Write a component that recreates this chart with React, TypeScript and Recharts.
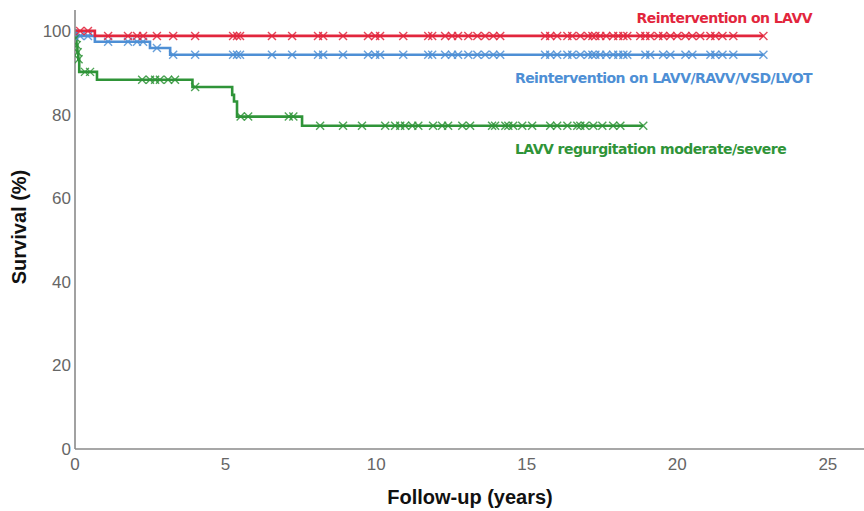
import React from 'react';
import { LineChart, Line, XAxis, YAxis } from 'recharts';

const xTicks = [0, 5, 10, 15, 20, 25];
const yTicks = [0, 20, 40, 60, 80, 100];

// Reintervention on LAVV
const lavvEventTimes = [0, 0.66];
const lavvEventSurv = [100, 98.8];
const lavvCensored = [
  0.17, 0.43, 1.1, 1.76, 2.06, 2.26, 2.72, 3.26, 3.99, 5.25, 5.38, 5.48, 6.54, 7.21,
  8.07, 8.24, 8.9, 9.73, 9.97, 10.13, 10.9, 11.73, 11.86, 12.29, 12.52, 12.72, 13.06,
  13.36, 13.62, 13.89, 14.12, 15.61, 15.78, 16.01, 16.35, 16.51, 16.78, 17.04, 17.18,
  17.28, 17.44, 17.64, 17.87, 18.04, 18.21, 18.34, 18.77, 18.94, 19.1, 19.37, 19.53,
  19.77, 20.0, 20.27, 20.5, 20.76, 21.1, 21.26, 21.5, 21.86, 22.86,
];

// Reintervention on LAVV/RAVV/VSD/LVOT
const anyEventTimes = [0, 0.05, 0.66, 2.49, 3.16];
const anyEventSurv = [100, 98.8, 97.4, 95.9, 94.3];
const anyCensored = [
  0.17, 0.43, 1.1, 1.76, 2.06, 2.26, 2.72, 3.26, 3.99, 5.25, 5.38, 5.48, 6.54, 7.21,
  8.07, 8.24, 8.9, 9.73, 9.97, 10.13, 10.9, 11.73, 11.86, 12.29, 12.52, 12.72, 13.06,
  13.36, 13.62, 13.89, 14.12, 15.61, 15.78, 16.01, 16.35, 16.51, 16.78, 17.04, 17.18,
  17.28, 17.44, 17.64, 17.87, 18.04, 18.21, 18.34, 18.94, 19.1, 19.53,
  19.77, 20.27, 20.5, 21.1, 21.26, 21.5, 21.86, 22.86,
];

// LAVV regurgitation moderate/severe
const regEventTimes = [0, 0.02, 0.05, 0.08, 0.11, 0.14, 0.73, 3.9, 5.22, 5.28, 5.38, 7.54];
const regEventSurv = [100, 98.3, 96.6, 94.9, 93.2, 90.2, 88.3, 86.6, 84.7, 83.1, 79.5, 77.3];
const regCensored = [
  0.03, 0.06, 0.09, 0.12, 0.33, 0.5, 2.23, 2.49, 2.66, 2.82, 3.09, 3.32, 3.99, 5.5,
  5.75, 7.1, 7.25, 8.14, 8.9, 9.53, 10.3, 10.63, 10.8, 10.96, 11.2, 11.4, 11.89, 12.19,
  12.39, 12.86, 13.12, 13.85, 13.95, 14.29, 14.39, 14.55, 14.85, 15.18, 15.78, 16.01,
  16.35, 16.68, 16.78, 16.94, 17.21, 17.51, 17.87, 18.11, 18.87,
];

const RED = '#e2263d';
const BLUE = '#4e8fd5';
const GREEN = '#2f9438';

// merge events and censor times into one step curve
function buildCurve(times: number[], surv: number[], censored: number[]) {
  const pts = times.map((t, i) => ({ t, s: surv[i], c: false }));
  censored.forEach((t) => {
    let s = surv[0];
    times.forEach((et, i) => {
      if (et <= t) s = surv[i];
    });
    pts.push({ t, s, c: true });
  });
  return pts.sort((a, b) => a.t - b.t);
}

const lavvCurve = buildCurve(lavvEventTimes, lavvEventSurv, lavvCensored);
const anyCurve = buildCurve(anyEventTimes, anyEventSurv, anyCensored);
const regCurve = buildCurve(regEventTimes, regEventSurv, regCensored);

const censorMark = (color: string) => (props: any) => {
  const { cx, cy, payload, index } = props;
  if (!payload || !payload.c) return <g key={index} />;
  const r = 4;
  return (
    <path
      key={index}
      d={`M${cx - r},${cy - r}L${cx + r},${cy + r}M${cx - r},${cy + r}L${cx + r},${cy - r}`}
      stroke={color}
      strokeOpacity={0.85}
      strokeWidth={1.4}
      fill="none"
    />
  );
};

const labelBase: React.CSSProperties = {
  position: 'absolute',
  fontFamily: '"DejaVu Sans", sans-serif',
  fontWeight: 'bold',
  fontSize: 14,
  letterSpacing: -0.55,
  whiteSpace: 'nowrap',
  lineHeight: '16px',
};

export default function App() {
  return (
    <div style={{ position: 'absolute', left: 0, top: 0, width: 864, height: 511, background: '#fff' }}>
      <LineChart width={864} height={511} margin={{ top: 10, right: 0, bottom: 0, left: 0 }}>
        <XAxis
          type="number"
          dataKey="t"
          domain={[0, 26.2]}
          ticks={xTicks}
          allowDataOverflow
          height={62}
          tickLine={false}
          tickSize={6}
          tickMargin={3}
          axisLine={{ stroke: '#8a8a8a', strokeWidth: 1.6 }}
          tick={{ fill: '#666', fontSize: 17, fontFamily: '"Liberation Sans", Arial, sans-serif' }}
        />
        <YAxis
          type="number"
          dataKey="s"
          domain={[0, 105]}
          ticks={yTicks}
          allowDataOverflow
          width={75}
          tickLine={false}
          tickSize={0}
          tickMargin={4}
          axisLine={{ stroke: '#8a8a8a', strokeWidth: 1.6 }}
          tick={{ fill: '#666', fontSize: 17, fontFamily: '"Liberation Sans", Arial, sans-serif' }}
        />
        <Line
          data={regCurve}
          dataKey="s"
          type="stepAfter"
          stroke={GREEN}
          strokeWidth={2.6}
          dot={censorMark(GREEN)}
          activeDot={false}
          isAnimationActive={false}
        />
        <Line
          data={anyCurve}
          dataKey="s"
          type="stepAfter"
          stroke={BLUE}
          strokeWidth={2.6}
          dot={censorMark(BLUE)}
          activeDot={false}
          isAnimationActive={false}
        />
        <Line
          data={lavvCurve}
          dataKey="s"
          type="stepAfter"
          stroke={RED}
          strokeWidth={2.6}
          dot={censorMark(RED)}
          activeDot={false}
          isAnimationActive={false}
        />
      </LineChart>

      <div style={{ ...labelBase, color: RED, right: 864 - 812, top: 10 }}>Reintervention on LAVV</div>
      <div style={{ ...labelBase, color: BLUE, right: 864 - 812, top: 70 }}>Reintervention on LAVV/RAVV/VSD/LVOT</div>
      <div style={{ ...labelBase, color: GREEN, left: 515, top: 141 }}>LAVV regurgitation moderate/severe</div>

      <div
        style={{
          position: 'absolute',
          left: 470,
          top: 497,
          transform: 'translate(-50%, -50%)',
          fontFamily: '"Liberation Sans", Arial, sans-serif',
          fontWeight: 'bold',
          fontSize: 20,
          whiteSpace: 'nowrap',
          color: '#111',
        }}
      >
        Follow-up (years)
      </div>
      <div
        style={{
          position: 'absolute',
          left: 19,
          top: 227,
          transform: 'translate(-50%, -50%) rotate(-90deg)',
          fontFamily: '"Liberation Sans", Arial, sans-serif',
          fontWeight: 'bold',
          fontSize: 20,
          whiteSpace: 'nowrap',
          color: '#111',
        }}
      >
        Survival (%)
      </div>
    </div>
  );
}
